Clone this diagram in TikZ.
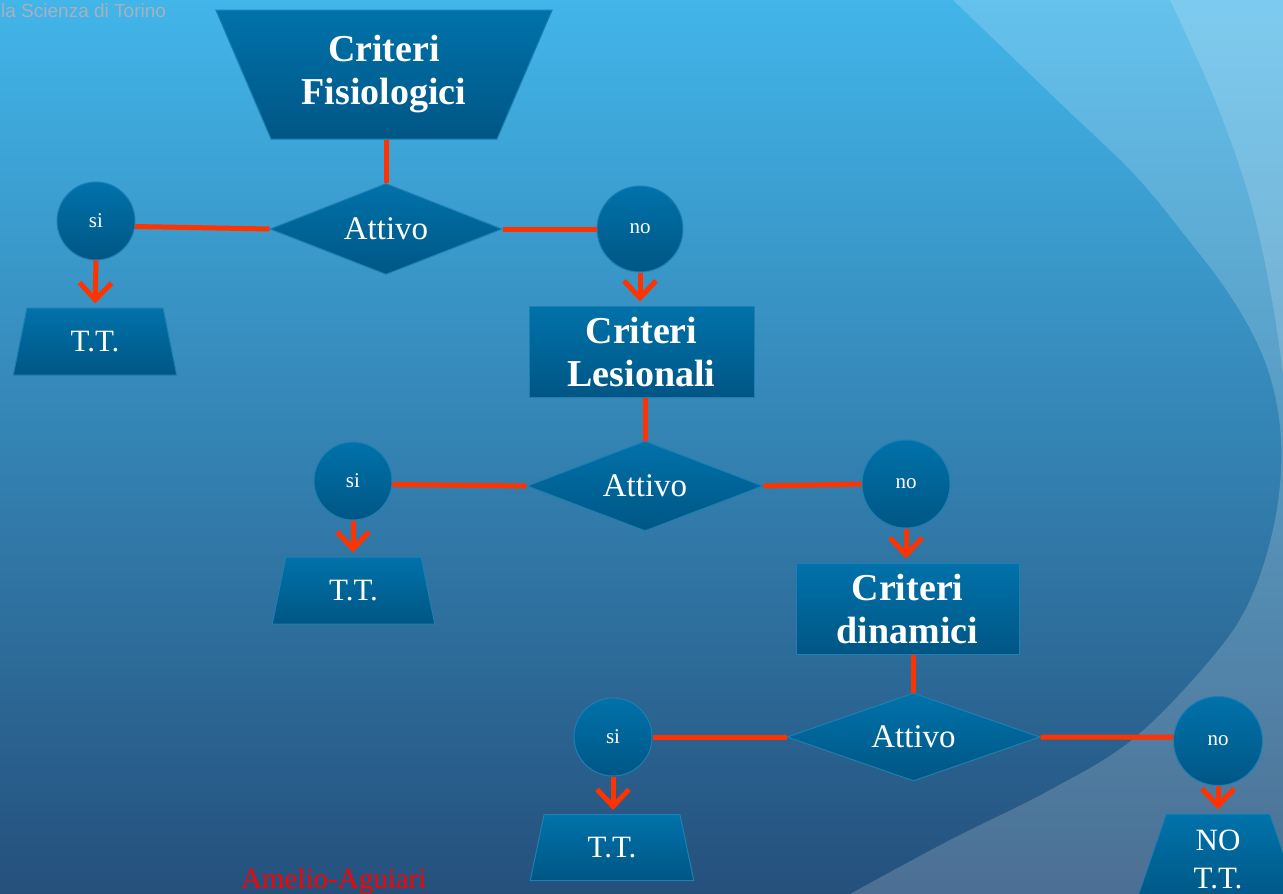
\documentclass[tikz,border=0pt]{standalone}
\usepackage{fontspec}
\setmainfont{Liberation Serif}
\newfontfamily\wmfont{Liberation Sans}
\usetikzlibrary{shapes.geometric,arrows.meta}
\definecolor{bgtop}{RGB}{66,181,233}
\definecolor{bgmid}{RGB}{54,143,198}
\definecolor{bgbot}{RGB}{37,80,124}
\definecolor{shtop}{RGB}{0,114,170}
\definecolor{shbot}{RGB}{0,86,133}
\definecolor{shborder}{RGB}{30,128,178}
\definecolor{redc}{RGB}{255,51,0}
\definecolor{wmgray}{RGB}{165,178,190}
\tikzset{
  box/.style={draw=shborder, line width=1pt, top color=shtop, bottom color=shbot,
    text=white, inner sep=0pt, align=center},
  tbox/.style={box, trapezium, trapezium stretches=true},
  dbox/.style={box, diamond, aspect=2.5},
  cbox/.style={box, circle, font=\fontsize{21}{24}\selectfont},
  critfont/.style={font=\fontsize{38}{43}\bfseries\selectfont},
  ttfont/.style={font=\fontsize{31}{38}\selectfont},
  attfont/.style={font=\fontsize{33}{38}\selectfont},
  conn/.style={draw=redc, line width=5pt},
  arr/.style={conn, -{Straight Barb[length=17pt,width=32pt]}, shorten >=4pt}
}
\begin{document}
\begin{tikzpicture}[x=1pt,y=-1pt]
\useasboundingbox (0,0) rectangle (1283,894);
\clip (0,0) rectangle (1283,894);
% background
\shade[top color=bgtop, middle color=bgmid, bottom color=bgbot] (0,0) rectangle (1283,894);
\fill[white, opacity=0.18] plot[smooth, tension=0.6] coordinates {(953,0) (1057,100) (1133,173) (1183,233) (1233,300) (1267,367) (1281,440) (1275,520) (1250,600) (1210,660) (1133,739) (1050,790) (950,840) (850,894)} -- (1283,894) -- (1283,0) -- cycle;
\fill[white, opacity=0.16] plot[smooth, tension=0.6] coordinates {(1170,0) (1215,100) (1250,200) (1272,300) (1285,390)} -- (1290,0) -- cycle;
\node[anchor=base west, text=wmgray, font=\wmfont\fontsize{19}{22}\selectfont, inner sep=0pt] (wm) at (1,17) {la Scienza di Torino};

% level 1
\node[tbox, critfont, trapezium left angle=117.3, trapezium right angle=117.3,
  minimum width=337pt, minimum height=129pt] (t1) at (384,74.5) {Criteri\\Fisiologici};
\node[dbox, attfont, minimum width=232pt, minimum height=91pt] (d1) at (386,229) {Attivo};
\node[cbox, minimum size=78pt] (s1) at (96,221) {si};
\node[cbox, minimum size=86pt] (n1) at (640,229) {no};
\node[tbox, ttfont, trapezium left angle=76.6, trapezium right angle=76.6,
  minimum width=164pt, minimum height=67pt] (tt1) at (95,341.5) {T.T.};

% level 2
\node[box, rectangle, critfont, minimum width=225pt, minimum height=91pt] (r2) at (641.5,351.5) {Criteri\\Lesionali};
\node[dbox, attfont, minimum width=236pt, minimum height=90pt] (d2) at (645,486) {Attivo};
\node[cbox, minimum size=78pt] (s2) at (353,481) {si};
\node[cbox, minimum size=88pt] (n2) at (906,484) {no};
\node[tbox, ttfont, trapezium left angle=76.6, trapezium right angle=76.6,
  minimum width=163pt, minimum height=67pt] (tt2) at (353.5,590.5) {T.T.};

% level 3
\node[box, rectangle, critfont, minimum width=223pt, minimum height=91pt] (r3) at (907.5,608.5) {Criteri\\dinamici};
\node[dbox, attfont, minimum width=253pt, minimum height=88pt] (d3) at (913.5,737) {Attivo};
\node[cbox, minimum size=78pt] (s3) at (613,737) {si};
\node[cbox, minimum size=89pt] (n3) at (1218,741) {no};
\node[tbox, ttfont, trapezium left angle=76.6, trapezium right angle=76.6,
  minimum width=164pt, minimum height=66pt] (tt3) at (612,847.5) {T.T.};
\node[tbox, ttfont, trapezium left angle=76, trapezium right angle=76,
  minimum width=167pt, minimum height=90pt] (tt4) at (1218,859) {NO\\T.T.};

% connectors
\draw[conn] (d1.north |- t1.south) -- (d1.north);
\draw[conn] (s1.-8) -- (d1.west);
\draw[conn] (d1.east) -- (n1.west);
\draw[arr] (s1.south) -- (tt1.north);
\draw[arr] (n1.south) -- (r2.north -| n1.south);

\draw[conn] (d2.north |- r2.south) -- (d2.north);
\draw[conn] (s2.-5) -- (d2.west);
\draw[conn] (d2.east) -- (n2.west);
\draw[arr] (s2.south) -- (tt2.north -| s2.south);
\draw[arr] (n2.south) -- (r3.north -| n2.south);

\draw[conn] (d3.north |- r3.south) -- (d3.north);
\draw[conn] (s3.east) -- (d3.west);
\draw[conn] (d3.east) -- (n3.175);
\draw[arr] (s3.south) -- (tt3.north -| s3.south);
\draw[arr] (n3.south) -- (tt4.north -| n3.south);

\node[anchor=base west, text=red, font=\fontsize{29}{32}\selectfont, inner sep=0pt] (auth) at (241,888) {Amelio-Aguiari};
\end{tikzpicture}
\end{document}
